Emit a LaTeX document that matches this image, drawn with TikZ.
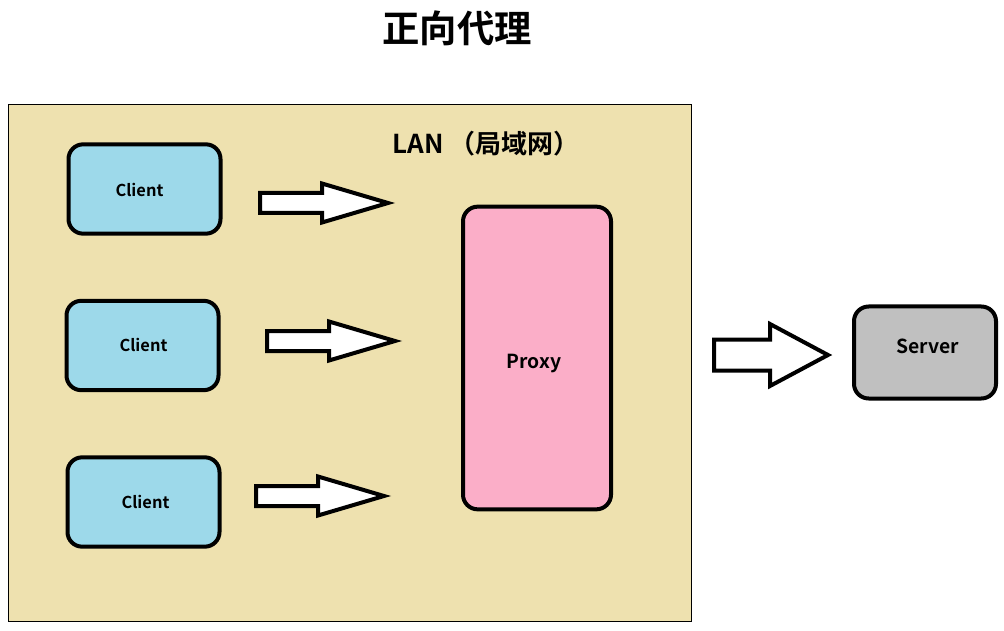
\documentclass[tikz,border=0pt]{standalone}
\usepackage{fontspec}
\setmainfont{Noto Sans CJK SC}[BoldFont={* Bold}]
\begin{document}
\begin{tikzpicture}[x=0.75pt,y=-0.75pt,
  box/.style={draw=black,line width=3pt,rounded corners=11pt,inner sep=0pt},
  lbl/.style={font=\bfseries\fontsize{12.3}{14}\selectfont,inner sep=0pt},
  biglbl/.style={font=\bfseries\fontsize{14.5}{17}\selectfont,inner sep=0pt},
  client/.style={box,fill=clientc,minimum width=114pt,minimum height=67pt},
  fatarrow/.pic={\draw[line width=3pt,fill=white,line join=miter]
     (0,-10)--(62,-10)--(62,-19.5)--(128,0)--(62,19.5)--(62,10)--(0,10)--cycle;},
  bigarrow/.pic={\draw[line width=3pt,fill=white,line join=miter]
     (0,-15.5)--(56,-15.5)--(56,-31)--(114,0)--(56,31)--(56,15.5)--(0,15.5)--cycle;}]
\definecolor{clientc}{HTML}{9DD9EA}
\definecolor{proxyc}{HTML}{FBAEC8}
\definecolor{serverc}{HTML}{C0C0C0}
\definecolor{lanc}{HTML}{EEE1AF}
\useasboundingbox[fill=white] (0,0) rectangle (1004,631);
\node[font=\bfseries\fontsize{28}{32}\selectfont] (title) at (457,28) {正向代理};
\draw[fill=lanc,line width=0.75pt] (8,105) rectangle (691,621);
\node[font=\bfseries\fontsize{19.5}{23}\selectfont] (lan) at (486,144) {LAN （局域网）};
\node[client] (c1) at (144.5,189) {};
\node[client] (c2) at (142.5,345.5) {};
\node[client] (c3) at (143.5,502) {};
\node[lbl] (c1t) at (139.5,190) {Client};
\node[lbl] (c2t) at (143.5,345) {Client};
\node[lbl] (c3t) at (145.5,502) {Client};
\node[box,fill=proxyc,minimum width=111pt,minimum height=227pt] (proxy) at (537,358) {};
\node[biglbl] (proxyt) at (534,364) {Proxy};
\node[box,fill=serverc,minimum width=106.5pt,minimum height=69pt] (server) at (925,352.5) {};
\node[biglbl] (servert) at (928,346) {Server};
\pic at (260,203) {fatarrow};
\pic at (267,341) {fatarrow};
\pic at (256,496) {fatarrow};
\pic at (714,355) {bigarrow};
\end{tikzpicture}
\end{document}
